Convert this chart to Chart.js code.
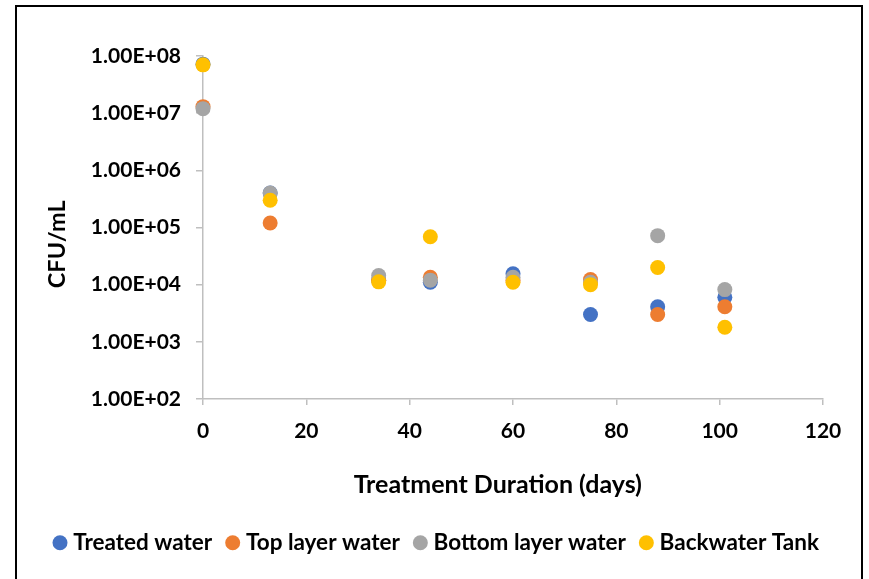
<!DOCTYPE html>
<html>
<head>
<meta charset="utf-8">
<script src="https://cdn.jsdelivr.net/npm/chart.js@4.4.1/dist/chart.umd.min.js"></script>
<style>
  html, body { margin: 0; padding: 0; background: #fff; }
  #wrap { position: relative; width: 869px; height: 579px; overflow: hidden; }
  #frame { position: absolute; left: 15px; top: 5px; width: 844px; height: 600px; border: 2px solid #000; pointer-events: none; }
</style>
</head>
<body>
<div id="wrap">
  <canvas id="chart" width="869" height="579"></canvas>
  <div id="frame"></div>
</div>
<script>
// sampling days
var days = [0, 13, 34, 44, 60, 75, 88, 101];

// CFU/mL per series
var treatedWater  = [7.2e7, 4.0e5, 1.2e4, 1.1e4, 1.55e4, 3.0e3, 4.1e3, 6.0e3];
var topLayer      = [1.3e7, 1.2e5, 1.2e4, 1.35e4, 1.2e4, 1.23e4, 3.0e3, 4.1e3];
var bottomLayer   = [1.2e7, 4.0e5, 1.45e4, 1.2e4, 1.35e4, 1.1e4, 7.2e4, 8.2e3];
var backwaterTank = [7.0e7, 3.0e5, 1.12e4, 6.9e4, 1.1e4, 1.0e4, 2.0e4, 1.8e3];

var yTicks = [1e2, 1e3, 1e4, 1e5, 1e6, 1e7, 1e8];

function pts(vals) {
    return vals.map(function (v, i) { return {x: days[i], y: v}; });
}

function sci(v) {
    var e = Math.round(Math.log10(v));
    return '1.00E+' + (e < 10 ? '0' + e : e);
}

var font = 'Lato, "Open Sans", sans-serif';
var axisGrey = '#bfbfbf';
var sp = '\u00a0';

var series = [
    {label: 'Treated water', data: treatedWater, color: '#4472C4'},
    {label: 'Top layer water', data: topLayer, color: '#ED7D31'},
    {label: 'Bottom layer water', data: bottomLayer, color: '#A5A5A5'},
    {label: 'Backwater Tank', data: backwaterTank, color: '#FFC000'}
];

// legend sits a bit right of where chart.js centres it
var legendShift = {
    id: 'legendShift',
    afterLayout: function (chart) {
        var lg = chart.legend;
        if (!lg) return;
        lg.left += 27;
        lg.right += 27;
    }
};

var node = document.getElementById('chart');
var myChart = new Chart(node, {
    type: 'scatter',
    data: {
        datasets: series.map(function (s, i) {
            return {
                label: s.label,
                data: pts(s.data),
                backgroundColor: s.color,
                borderColor: s.color,
                borderWidth: 0,
                pointRadius: 7.5,
                pointHoverRadius: 8,
                order: series.length - i,   // later series drawn on top, like Excel
                clip: false
            };
        })
    },
    options: {
        responsive: false,
        animation: false,
        layout: { padding: {top: 56, right: 46, bottom: 15, left: 0} },
        plugins: {
            legend: {
                position: 'bottom',
                labels: {
                    usePointStyle: true,
                    pointStyle: 'circle',
                    boxWidth: 4,
                    boxHeight: 10.6,
                    padding: 18.5,
                    color: '#000',
                    font: {family: font, size: 22.5, weight: 'bold'},
                    sort: function (a, b) { return a.datasetIndex - b.datasetIndex; }
                }
            },
            tooltip: { enabled: true }
        },
        scales: {
            x: {
                type: 'linear',
                min: 0,
                max: 120,
                ticks: {
                    stepSize: 20,
                    padding: 14,
                    color: '#000',
                    font: {family: font, size: 21, weight: 'bold'}
                },
                grid: { drawOnChartArea: false, drawTicks: true, tickLength: 6, color: axisGrey, lineWidth: 1.5 },
                border: { color: axisGrey, width: 1.5 },
                title: {
                    display: true,
                    text: 'Treatment Duration (days)' + sp.repeat(5),
                    color: '#000',
                    font: {family: font, size: 25, weight: 'bold'},
                    padding: {top: 0, bottom: 13.5}
                },
                afterFit: function (scale) { scale.height = 114; }
            },
            y: {
                type: 'logarithmic',
                min: 1e2,
                max: 1e8,
                afterBuildTicks: function (scale) {
                    scale.ticks = yTicks.map(function (v) { return {value: v}; });
                },
                ticks: {
                    padding: 15,
                    color: '#000',
                    font: {family: font, size: 21, weight: 'bold'},
                    callback: function (v) { return sci(v); }
                },
                grid: { drawOnChartArea: false, drawTicks: true, tickLength: 7, color: axisGrey, lineWidth: 1.5 },
                border: { color: axisGrey, width: 1.5 },
                title: {
                    display: true,
                    text: 'CFU/mL' + sp.repeat(6),
                    color: '#000',
                    font: {family: font, size: 23.5, weight: 'bold'},
                    padding: {top: 43, bottom: 0}
                },
                afterFit: function (scale) { scale.width = 203; }
            }
        }
    },
    plugins: [legendShift]
});
</script>
</body>
</html>
